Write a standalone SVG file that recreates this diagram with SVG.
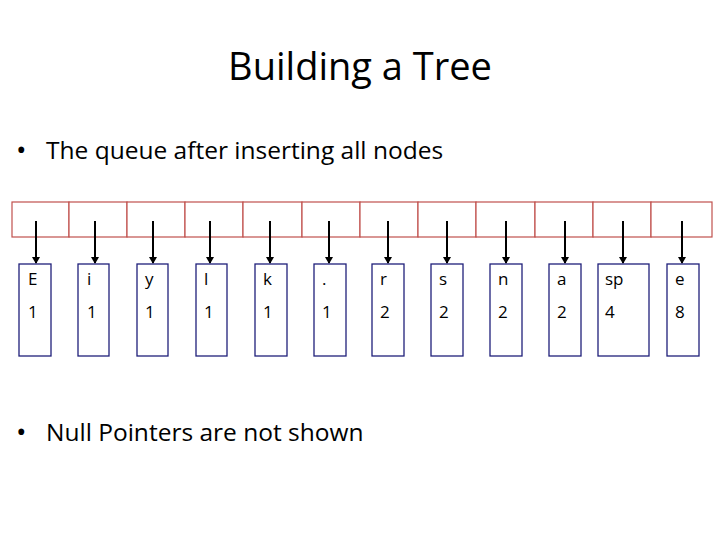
<svg xmlns="http://www.w3.org/2000/svg" width="720" height="540" viewBox="0 0 720 540">
<style>
text{font-family:"Open Sans","Liberation Sans",sans-serif;fill:#000}
.cell{fill:#fff;stroke:#c0504d;stroke-width:1.2}
.node{fill:#fff;stroke:#1f1f7a;stroke-width:1.3}
.lbl{font-size:17px}
.ar{stroke:#000;stroke-width:2;marker-end:url(#ah)}
</style>
<defs><marker id="ah" markerWidth="8" markerHeight="8" refX="6" refY="4" orient="auto" markerUnits="userSpaceOnUse"><path d="M0,0L7,4L0,8z" fill="#000"/></marker></defs>
<rect width="720" height="540" fill="#fff"/>
<text x="360" y="80" text-anchor="middle" font-size="38">Building a Tree</text>
<text x="16" y="160" font-size="28">•</text><text x="46" y="159" font-size="24.5">The queue after inserting all nodes</text>
<text x="16" y="442" font-size="28">•</text><text x="46" y="441" font-size="24.5">Null Pointers are not shown</text>
<g id="queue">
<rect class="cell" x="12" y="202" width="57" height="35"/><rect class="cell" x="69" y="202" width="58" height="35"/><rect class="cell" x="127" y="202" width="58" height="35"/><rect class="cell" x="185" y="202" width="58" height="35"/><rect class="cell" x="243" y="202" width="59" height="35"/><rect class="cell" x="302" y="202" width="58" height="35"/><rect class="cell" x="360" y="202" width="58" height="35"/><rect class="cell" x="418" y="202" width="58" height="35"/><rect class="cell" x="476" y="202" width="59" height="35"/><rect class="cell" x="535" y="202" width="58" height="35"/><rect class="cell" x="593" y="202" width="58" height="35"/><rect class="cell" x="651" y="202" width="61" height="35"/>
</g>
<g id="connectors">
<line class="ar" x1="36" y1="221" x2="36" y2="263"/><line class="ar" x1="95" y1="221" x2="95" y2="263"/><line class="ar" x1="153" y1="221" x2="153" y2="263"/><line class="ar" x1="210" y1="221" x2="210" y2="263"/><line class="ar" x1="270" y1="221" x2="270" y2="263"/><line class="ar" x1="329" y1="221" x2="329" y2="263"/><line class="ar" x1="388" y1="221" x2="388" y2="263"/><line class="ar" x1="447" y1="221" x2="447" y2="263"/><line class="ar" x1="506" y1="221" x2="506" y2="263"/><line class="ar" x1="565" y1="221" x2="565" y2="263"/><line class="ar" x1="623" y1="221" x2="623" y2="263"/><line class="ar" x1="682" y1="221" x2="682" y2="263"/>
</g>
<g id="nE"><rect class="node" x="19" y="264" width="32" height="92"/><text class="lbl" x="28" y="285">E</text><text class="lbl" x="28" y="318">1</text></g>
<g id="ni"><rect class="node" x="78" y="264" width="31" height="92"/><text class="lbl" x="87" y="285">i</text><text class="lbl" x="87" y="318">1</text></g>
<g id="ny"><rect class="node" x="137" y="264" width="31" height="92"/><text class="lbl" x="145" y="285">y</text><text class="lbl" x="145" y="318">1</text></g>
<g id="nl"><rect class="node" x="196" y="264" width="31" height="92"/><text class="lbl" x="204" y="285">l</text><text class="lbl" x="204" y="318">1</text></g>
<g id="nk"><rect class="node" x="255" y="264" width="32" height="92"/><text class="lbl" x="263" y="285">k</text><text class="lbl" x="263" y="318">1</text></g>
<g id="ndot"><rect class="node" x="314" y="264" width="32" height="92"/><text class="lbl" x="322" y="285">.</text><text class="lbl" x="322" y="318">1</text></g>
<g id="nr"><rect class="node" x="372" y="264" width="32" height="92"/><text class="lbl" x="380" y="285">r</text><text class="lbl" x="380" y="318">2</text></g>
<g id="ns"><rect class="node" x="431" y="264" width="32" height="92"/><text class="lbl" x="439" y="285">s</text><text class="lbl" x="439" y="318">2</text></g>
<g id="nn"><rect class="node" x="490" y="264" width="32" height="92"/><text class="lbl" x="498" y="285">n</text><text class="lbl" x="498" y="318">2</text></g>
<g id="na"><rect class="node" x="549" y="264" width="32" height="92"/><text class="lbl" x="557" y="285">a</text><text class="lbl" x="557" y="318">2</text></g>
<g id="nsp"><rect class="node" x="598" y="264" width="51" height="92"/><text class="lbl" x="605" y="285">sp</text><text class="lbl" x="605" y="318">4</text></g>
<g id="ne"><rect class="node" x="667" y="264" width="32" height="92"/><text class="lbl" x="675" y="285">e</text><text class="lbl" x="675" y="318">8</text></g>
</svg>
